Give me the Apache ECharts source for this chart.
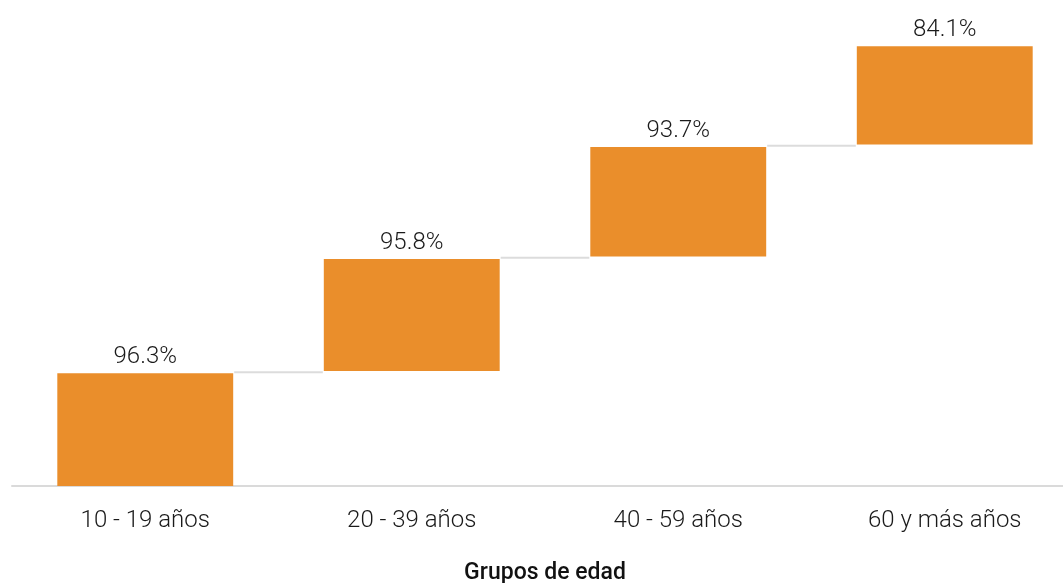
<!DOCTYPE html>
<html>
<head>
<meta charset="utf-8">
<script src="https://cdn.jsdelivr.net/npm/echarts@6/dist/echarts.min.js"></script>
<style>html,body{margin:0;padding:0;background:#fff;}#chart{width:1063px;height:583px;}</style>
</head>
<body>
<div id="chart"></div>
<script>
const categories = ['10 - 19 años', '20 - 39 años', '40 - 59 años', '60 y más años'];
const values = [96.3, 95.8, 93.7, 84.1];
const axisName = 'Grupos de edad';

const GAP = 2;
const bases = [];
let acc = 0;
values.forEach((v, i) => { bases.push(acc + i * GAP); acc += v; });
const connectors = [];
for (let i = 0; i < values.length - 1; i++) {
  connectors.push([i, bases[i] + values[i] + GAP / 2]);
}

const chart = echarts.init(document.getElementById('chart'));
chart.setOption({
  animation: false,
  textStyle: { fontFamily: 'Roboto' },
  grid: { left: 12, right: -15, top: 18, bottom: 97, containLabel: false, outerBoundsMode: 'none' },
  xAxis: {
    type: 'category',
    data: categories,
    axisLine: { lineStyle: { color: '#dadada', width: 2 } },
    axisTick: { show: false },
    axisLabel: { fontSize: 24, fontWeight: 300, color: '#1a1a1a', margin: 23, fontFamily: 'Roboto' },
    name: axisName,
    nameLocation: 'middle',
    nameGap: 76,
    nameTextStyle: { fontSize: 23, fontWeight: 500, color: '#111', fontFamily: 'Roboto' }
  },
  yAxis: { type: 'value', min: 0, max: 400, show: false, splitLine: { show: false } },
  series: [
    {
      type: 'bar', stack: 'w', data: bases, barWidth: '66%',
      itemStyle: { color: 'transparent' }, silent: true
    },
    {
      type: 'bar', stack: 'w', data: values, barWidth: '66%',
      itemStyle: { color: '#EA8E2B' },
      label: {
        show: true, position: 'top', distance: 4,
        formatter: p => p.value.toFixed(1) + '%',
        fontSize: 24, fontWeight: 300, color: '#1a1a1a', fontFamily: 'Roboto'
      }
    },
    {
      type: 'custom',
      data: connectors,
      renderItem: function (params, api) {
        const p = api.coord([api.value(0), api.value(1)]);
        const band = api.size([1, 0])[0];
        const half = band * 0.33;
        return {
          type: 'line',
          shape: { x1: p[0] + half + 1, y1: p[1], x2: p[0] + band - half - 1, y2: p[1] },
          style: { stroke: '#dcdcdc', lineWidth: 2 }
        };
      },
      z: 1
    }
  ]
});
</script>
</body>
</html>
